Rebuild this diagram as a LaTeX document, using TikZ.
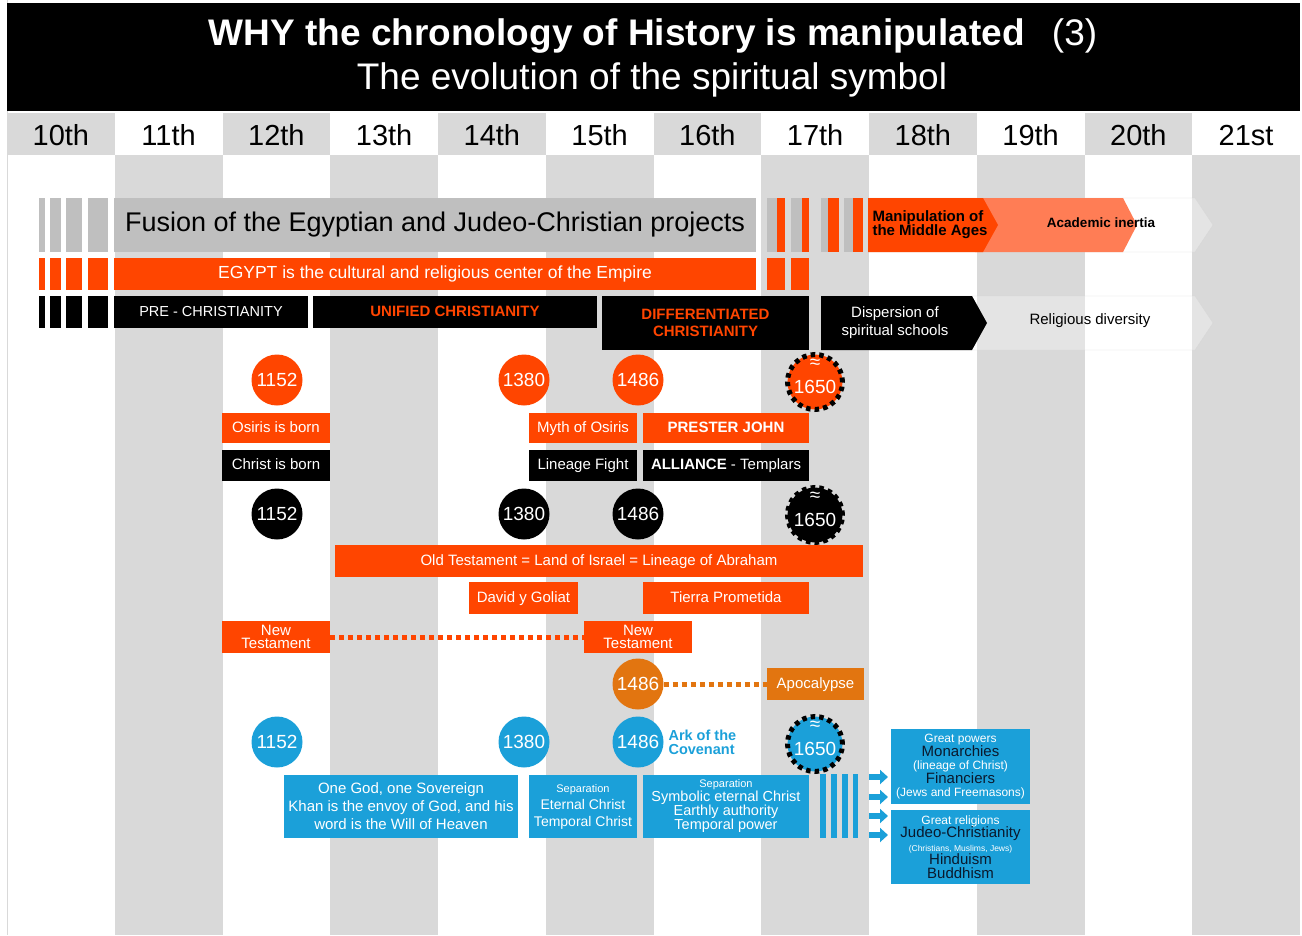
\documentclass[tikz,border=0pt]{standalone}
\usepackage{fontspec}
\setmainfont{Liberation Sans}
\usetikzlibrary{arrows.meta}

\begin{document}
\begin{tikzpicture}
[x=1pt,y=-1pt,line cap=butt,
% Styles
box/.style={anchor=north west,inner sep=0pt,outer sep=0pt,align=center,
  text=white,font=\fontsize{15}{18}\selectfont},
one line/.style={text height=10.5pt,text depth=2.5pt},
orange box/.style={box,fill=mainorange},
black box/.style={box,fill=black},
blue box/.style={box,fill=mainblue},
wh/.style 2 args={minimum width=#1pt,minimum height=#2pt},
year/.style={circle,inner sep=0pt,outer sep=0pt,minimum size=51pt,text=white,
  font=\fontsize{19}{19}\selectfont},
gear/.style={year,minimum size=55pt,draw=black,line width=5pt,
  dash pattern=on 4.5pt off 4.1pt,text height=22pt,text depth=0pt},
approx/.style={inner sep=0pt,text=white,font=\fontsize{19}{19}\selectfont},
century/.style={anchor=base,font=\fontsize{29}{29}\selectfont},
chevron/.style={draw=outline,fill=white,fill opacity=0.3},
dotted link/.style={line width=5pt,dash pattern=on 5pt off 4pt},
block arrow/.style={mainblue,line width=6pt,-{Triangle[width=14pt,length=8pt]},
  shorten >=3pt}]
% Colors
\definecolor{mainorange}{RGB}{255,69,0}
\definecolor{softorange}{RGB}{255,125,85}
\definecolor{apocorange}{RGB}{226,117,16}
\definecolor{mainblue}{RGB}{27,160,217}
\definecolor{darktext}{RGB}{10,25,45}
\definecolor{bgcolor}{RGB}{217,217,217}
\definecolor{barcolor}{RGB}{191,191,191}
\definecolor{outline}{RGB}{215,215,215}
\useasboundingbox (0,0) rectangle (1302,935);
% Centuries
\draw[bgcolor] (7,0) -- (7,935);
\foreach \i in {0,2,...,10}
  \fill[bgcolor] ({7+107.75*\i},113) rectangle ++(107.75,42);
\foreach \i in {1,3,...,11}
  \fill[bgcolor] ({7+107.75*\i},155) rectangle ++(107.75,780);
\foreach \lab [count=\i from 0] in {10th,11th,12th,13th,14th,15th,16th,17th,18th,19th,20th,21st}
  \node[century] (cent\i) at ({7+107.75*(\i+0.5)},145) {\lab};
% Title
\fill (7,3) rectangle (1300,111);
\node[anchor=base,text=white,font=\fontsize{37}{37}\selectfont] (title) at (653,45)
  {\textbf{WHY the chronology of History is manipulated}\hspace{27pt}(3)};
\node[anchor=base,text=white,font=\fontsize{37}{37}\selectfont] (subtitle) at (652,89)
  {The evolution of the spiritual symbol};
% Top bars
\foreach \x/\w in {39/6,50/11,66/16,88/20} {
  \fill[barcolor] (\x,198) rectangle ++(\w,54);
  \fill[mainorange] (\x,258) rectangle ++(\w,32);
  \fill (\x,296) rectangle ++(\w,32);
}
\foreach \x/\w/\c in {767/10/barcolor,777/8/mainorange,791/11/barcolor,802/7/mainorange,
  821/7/barcolor,828/11/mainorange,844/9/barcolor,853/10/mainorange}
  \fill[\c] (\x,198) rectangle ++(\w,54);
\foreach \x in {767,791}
  \fill[mainorange] (\x,258) rectangle ++(18,32);
\node[box,wh={642}{54},fill=barcolor,text=black,font=\fontsize{27}{30}\selectfont]
  (fusion) at (114,198) {Fusion of the Egyptian and Judeo-Christian projects};
\node[orange box,wh={642}{32},font=\fontsize{17.5}{20}\selectfont]
  (egypt) at (114,258) {EGYPT is the cultural and religious center of the Empire};
\path[chevron] (868,198) -- (1195,198) -- (1213,225) -- (1195,252) -- (868,252);
\fill[softorange] (975,198) -- (1123,198) -- (1137,225) -- (1123,252) -- (975,252) -- cycle;
\fill[mainorange] (868,198) -- (983,198) -- (998,225) -- (983,252) -- (868,252) -- cycle;
\node[anchor=west,align=left,font=\bfseries\fontsize{15}{14}\selectfont]
  (manip) at (869,225) {Manipulation of\\the Middle Ages};
\node[font=\bfseries\fontsize{13.5}{14}\selectfont] (inertia) at (1101,223) {Academic inertia};
\node[black box,one line,wh={194}{32},font=\fontsize{14.5}{16}\selectfont]
  (prechrist) at (114,296) {PRE - CHRISTIANITY};
\node[black box,one line,wh={284}{32},text=mainorange,font=\bfseries\fontsize{15}{16}\selectfont]
  (unified) at (313,296) {UNIFIED CHRISTIANITY};
\node[black box,wh={207}{54},text=mainorange,font=\bfseries\fontsize{15}{17}\selectfont]
  (differentiated) at (602,296) {DIFFERENTIATED\\CHRISTIANITY};
\path[chevron] (821,296) -- (1195,296) -- (1213,323) -- (1195,350) -- (821,350);
\fill (821,296) -- (972,296) -- (987,323) -- (972,350) -- (821,350) -- cycle;
\node[text=white,align=center,font=\fontsize{15}{18}\selectfont]
  (dispersion) at (895,323) {Dispersion of\\spiritual schools};
\node[font=\fontsize{15}{18}\selectfont] (diversity) at (1090,321) {Religious diversity};
% Years
\foreach \x/\yr [count=\i] in {277/1152,524/1380,638/1486} {
  \node[year,fill=mainorange] (oyear\i) at (\x,380) {\yr};
  \node[year,fill=black] (byear\i) at (\x,514) {\yr};
  \node[year,fill=mainblue] (lyear\i) at (\x,742) {\yr};
}
\foreach \c/\y/\n in {mainorange/382/ogear,black/515/bgear,mainblue/744/lgear} {
  \node[gear,fill=\c] (\n) at (815,\y) {1650};
  \node[approx] (\n mark) at ([yshift=18pt]\n.center) {≈};
}
% Osiris and Christ
\node[orange box,one line,wh={108}{30}] (osiris) at (222,413) {Osiris is born};
\node[orange box,one line,wh={108}{30}] (myth) at (529,413) {Myth of Osiris};
\node[orange box,one line,wh={166}{30}] (prester) at (643,413) {\textbf{PRESTER JOHN}};
\node[black box,one line,wh={108}{31}] (christ) at (222,450) {Christ is born};
\node[black box,one line,wh={108}{31}] (lineage) at (529,450) {Lineage Fight};
\node[black box,one line,wh={166}{31}] (alliance) at (643,450) {\textbf{ALLIANCE} - Templars};
% Testaments
\node[orange box,one line,wh={528}{32}] (oldtest) at (335,545)
  {Old Testament = Land of Israel = Lineage of Abraham};
\node[orange box,one line,wh={109}{32}] (david) at (469,582) {David y Goliat};
\node[orange box,one line,wh={166}{32}] (tierra) at (643,582) {Tierra Prometida};
\node[orange box,wh={108}{32},font=\fontsize{15}{13.5}\selectfont]
  (newtest1) at (222,621) {New\\Testament};
\node[orange box,wh={108}{32},font=\fontsize{15}{13.5}\selectfont]
  (newtest2) at (584,621) {New\\Testament};
\draw[mainorange,dotted link] (newtest1) -- (newtest2);
\node[year,fill=apocorange] (ayear) at (638,684) {1486};
\node[box,one line,wh={97}{32},fill=apocorange] (apocalypse) at (767,668) {Apocalypse};
\draw[apocorange,dotted link] (ayear) -- (apocalypse);
% Power
\node[anchor=west,align=left,text=mainblue,font=\bfseries\fontsize{14.5}{14}\selectfont]
  (ark) at (665,742) {Ark of the\\Covenant};
\node[blue box,wh={234}{63}] (onegod) at (284,775)
  {One God, one Sovereign\\Khan is the envoy of God, and his\\word is the Will of Heaven};
\node[blue box,wh={108}{63},font=\fontsize{14}{17}\selectfont] (sepone) at (529,775)
  {{\fontsize{11}{11}\selectfont Separation}\\Eternal Christ\\Temporal Christ};
\node[blue box,wh={166}{63},font=\fontsize{14.5}{14}\selectfont] (septwo) at (643,775)
  {{\fontsize{11}{11}\selectfont Separation}\\Symbolic eternal Christ\\Earthly authority\\Temporal power};
\foreach \x/\w in {820/6,831/6,842/6,853/5}
  \fill[mainblue] (\x,774) rectangle ++(\w,64);
\node[blue box,wh={139}{75},font=\fontsize{15}{13}\selectfont] (powers) at (891,729)
  {{\fontsize{12}{12}\selectfont Great powers}\\
   \textcolor{darktext}{Monarchies}\\
   {\fontsize{12}{12}\selectfont (lineage of Christ)}\\
   \textcolor{darktext}{Financiers}\\
   {\fontsize{12}{12}\selectfont (Jews and Freemasons)}};
\node[blue box,wh={139}{74},font=\fontsize{15}{13.5}\selectfont] (religions) at (891,810)
  {{\fontsize{12}{12}\selectfont Great religions}\\
   \textcolor{darktext}{Judeo-Christianity}\\
   {\fontsize{8.5}{9}\selectfont (Christians, Muslims, Jews)}\\
   \textcolor{darktext}{Hinduism}\\
   \textcolor{darktext}{Buddhism}};
\foreach \y [count=\i] in {777,797,816,835} {
  \coordinate (arr\i) at (869,\y);
  \draw[block arrow] (arr\i) -- (arr\i -| powers.west);
}
\end{tikzpicture}
\end{document}
